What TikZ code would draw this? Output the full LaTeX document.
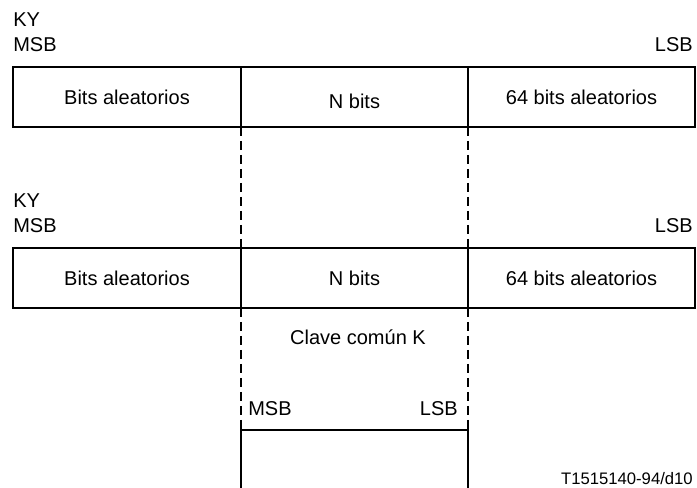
\documentclass[tikz,border=0pt]{standalone}
\usepackage{fontspec}
\setmainfont{Liberation Sans}
\usetikzlibrary{positioning}

\begin{document}
\begin{tikzpicture}[x=0.75pt, y=-0.75pt,
    every node/.style={font=\fontsize{15}{18}\selectfont},
    field/.style={draw, line width=0.9pt, minimum height=45pt, inner sep=0pt, outer sep=0pt, anchor=north west},
    tag/.style={inner sep=0pt},
    guide/.style={line width=0.9pt, dash pattern=on 6.5pt off 4pt}]
  \useasboundingbox (0,0) rectangle (697,488);

  % Clave KY (primera)
  \node[tag, anchor=base west] (ky1) at (13,27) {KY};
  \node[tag, anchor=base west] (msb1) at (13,52) {MSB};
  \node[tag, anchor=base east] (lsb1) at (693,52) {LSB};
  \node[field, minimum width=171pt] (a1) at (13,67) {Bits aleatorios};
  \node[field, minimum width=170.25pt, label={[tag, yshift=-3pt]center:N bits}] (a2) at (a1.north east) {};
  \node[field, minimum width=170.25pt] (a3) at (a2.north east) {64 bits aleatorios};

  % Clave KY (segunda)
  \node[tag, anchor=base west] (ky2) at (13,208) {KY};
  \node[tag, anchor=base west] (msb2) at (13,233) {MSB};
  \node[tag, anchor=base east] (lsb2) at (693,233) {LSB};
  \node[field, minimum width=171pt] (b1) at (13,248) {Bits aleatorios};
  \node[field, minimum width=170.25pt] (b2) at (b1.north east) {N bits};
  \node[field, minimum width=170.25pt] (b3) at (b2.north east) {64 bits aleatorios};

  % Guias entre los N bits
  \draw[guide] (a2.south west) -- (b2.north west);
  \draw[guide] (a3.south west) -- (b3.north west);

  % Clave comun K
  \node[tag, anchor=base] (kname) at (358,345) {Clave común K};
  \coordinate (kw) at (241,430);
  \coordinate (ke) at (468,430);
  \coordinate (kbw) at (241,488);
  \coordinate (kbe) at (468,488);
  \draw[guide] (b2.south west) -- (kw);
  \draw[guide] (b3.south west) -- (ke);
  \draw[line width=0.9pt] (kbw) -- (kw) -- (ke) -- (kbe);
  \node[tag, anchor=base west] (kmsb) at (248,416) {MSB};
  \node[tag, anchor=base east] (klsb) at (458,416) {LSB};

  \node[tag, anchor=base east, font=\fontsize{12.5}{15}\selectfont] (ref) at (693,485) {T1515140-94/d10};
\end{tikzpicture}
\end{document}
